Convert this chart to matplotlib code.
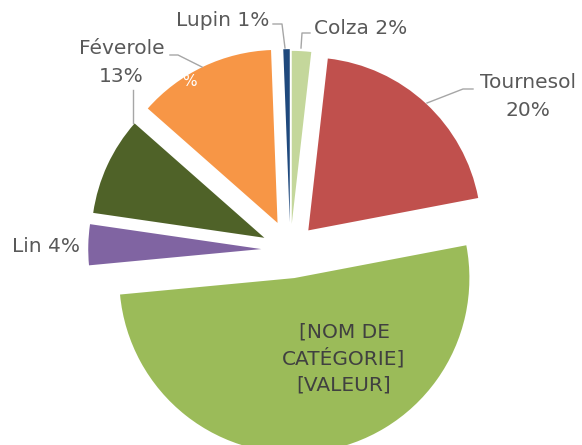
import matplotlib
matplotlib.use("Agg")
import matplotlib.pyplot as plt

# surfaces (%) par culture
cultures = ['Colza', 'Tournesol', 'Autre', 'Lin', 'Pois', 'Féverole', 'Lupin']
valeurs = [1.8, 20.2, 51.5, 3.8, 9.2, 12.9, 0.6]
couleurs = ['#C4D79B', '#C0504D', '#9BBB59', '#8064A2', '#4F6228', '#F79646', '#1F497D']
eclate = [0.15, 0.153, 0.165, 0.168, 0.165, 0.172, 0.16]

W, H = 582, 445
CX, CY, R = 290.3, 249.8, 173.0   # centre et rayon en pixels


def px(x, y):
    # pixels (origine en haut a gauche) -> coordonnees du camembert
    return (x - CX) / R, (CY - y) / R


fig = plt.figure(figsize=(W / 100, H / 100), dpi=100)
ax = fig.add_axes([0, 0, 1, 1])

parts, _ = ax.pie(valeurs, colors=couleurs, explode=eclate, startangle=90,
                  counterclock=False, radius=1, center=(0, 0),
                  wedgeprops=dict(linewidth=0))
parts[2].set_radius(1.012)   # la grande part est un peu plus grosse

x0, y1 = px(0, H)
x1, y0 = px(W, 0)
ax.set_xlim(x0, x1)
ax.set_ylim(y1, y0)
ax.set_aspect('equal')
ax.axis('off')

gris = '#595959'
fs = 14.5
pct = {c: '%d%%' % round(v) for c, v in zip(cultures, valeurs)}

ax.text(*px(223, 20), 'Lupin ' + pct['Lupin'], ha='center', va='center', fontsize=fs, color=gris)
ax.text(*px(361, 28), 'Colza ' + pct['Colza'], ha='center', va='center', fontsize=fs, color=gris)
ax.text(*px(122, 49), 'Féverole', ha='center', va='center', fontsize=fs, color=gris)
ax.text(*px(121, 76), pct['Féverole'], ha='center', va='center', fontsize=fs, color=gris)
ax.text(*px(528, 83), 'Tournesol', ha='center', va='center', fontsize=fs, color=gris)
ax.text(*px(528, 110), pct['Tournesol'], ha='center', va='center', fontsize=fs, color=gris)
ax.text(*px(46, 246), 'Lin ' + pct['Lin'], ha='center', va='center', fontsize=fs, color=gris)
ax.text(*px(189, 82), '%', ha='center', va='center', fontsize=11, color='white')

for ligne, y in zip(['[NOM DE', 'CATÉGORIE]', '[VALEUR]'], [332, 358, 385]):
    ax.text(*px(344, y), ligne, ha='center', va='center', fontsize=fs, color='#404040')

# lignes de rappel
rappels = [
    [(273, 24), (282, 24), (285, 48)],
    [(310, 33), (302, 33), (301, 48)],
    [(170, 55), (178, 55), (202, 67)],
    [(133, 90), (133, 123)],
    [(473, 89), (463, 89), (427, 103)],
]
for pts in rappels:
    xs, ys = zip(*[px(x, y) for x, y in pts])
    ax.plot(xs, ys, color='#A6A6A6', linewidth=1)

fig.savefig('out.png', dpi=100)
